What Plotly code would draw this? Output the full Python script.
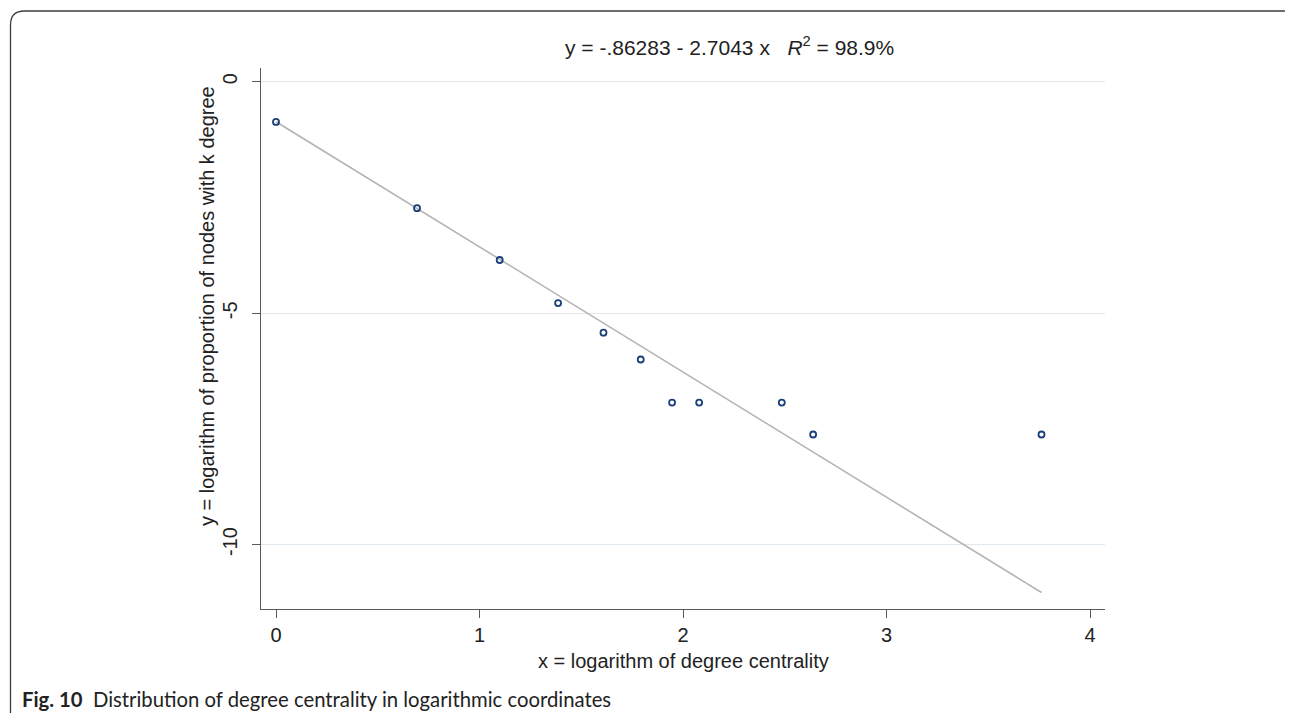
import plotly.graph_objects as go

# ---- data ----
x_log_degree = [0.0, 0.693, 1.099, 1.386, 1.609, 1.792, 1.946, 2.079, 2.485, 2.639, 3.761]
y_log_prop = [-0.866, -2.73, -3.85, -4.78, -5.42, -6.00, -6.93, -6.93, -6.93, -7.62, -7.62]
fit_intercept = -0.86283
fit_slope = -2.7043
x_ticks = [0, 1, 2, 3, 4]
y_ticks = [-10, -5, 0]
title_text = "y = -.86283 - 2.7043 x   <i>R</i><sup>2</sup> = 98.9%"
x_title = "x = logarithm of degree centrality"
y_title = "y = logarithm of proportion of nodes with k degree"
caption = "<b>Fig. 10</b>  Distribution of degree centrality in logarithmic coordinates"

# ---- layout geometry (screen pixels; page body has an 8px margin) ----
OFF = 8
SW, SH = 1293, 713
W, H = SW - OFF, SH - OFF
L, R, T, B = 261, 1105, 68, 609      # plot area in screen pixels
pw, ph = R - L, B - T


def px(x):
    return (x - L) / pw


def py(y):
    return (B - y) / ph


fit_x = [min(x_log_degree), max(x_log_degree)]
fit_y = [fit_intercept + fit_slope * v for v in fit_x]

FONT = "Liberation Sans, Arial, sans-serif"

fig = go.Figure()
fig.add_trace(go.Scatter(
    x=fit_x, y=fit_y, mode="lines",
    line=dict(color="#b4b4b4", width=1.6),
    hoverinfo="skip", showlegend=False,
))
fig.add_trace(go.Scatter(
    x=x_log_degree, y=y_log_prop, mode="markers",
    marker=dict(symbol="circle-open", size=6, color="#1a3f7a",
                line=dict(width=1.8, color="#1a3f7a")),
    showlegend=False,
))

fig.update_xaxes(
    range=[-0.0737, 4.073], tickvals=x_ticks, ticktext=[str(v) for v in x_ticks],
    showgrid=False, zeroline=False, showline=True, linecolor="#5a5a5a", linewidth=1.3,
    ticks="outside", ticklen=8, tickcolor="#5a5a5a", tickwidth=1,
    tickfont=dict(family=FONT, size=20, color="#222222"),
    ticklabelstandoff=0,
)
fig.update_yaxes(
    range=[-11.39, 0.298], tickvals=y_ticks, ticktext=[str(v) for v in y_ticks],
    showgrid=True, gridcolor="#dfe8ee", gridwidth=1.2,
    zeroline=False, showline=True, linecolor="#5a5a5a", linewidth=1.3,
    ticks="outside", ticklen=8, tickcolor="#5a5a5a", tickwidth=1,
    tickangle=-90,
    tickfont=dict(family=FONT, size=20, color="#222222"),
    ticklabelstandoff=7,
)

annotations = [
    dict(text=title_text, x=px(729), y=py(46), xref="paper", yref="paper",
         showarrow=False, xanchor="center", yanchor="middle",
         font=dict(family=FONT, size=21, color="#222222")),
    dict(text=x_title, x=px(683), y=py(661), xref="paper", yref="paper",
         showarrow=False, xanchor="center", yanchor="middle",
         font=dict(family=FONT, size=20, color="#222222")),
    dict(text=y_title, x=px(207), y=py(306), xref="paper", yref="paper",
         showarrow=False, xanchor="center", yanchor="middle", textangle=-90,
         font=dict(family=FONT, size=20, color="#222222")),
    dict(text=caption, x=px(20), y=py(699), xref="paper", yref="paper",
         showarrow=False, xanchor="left", yanchor="middle",
         font=dict(family="Lato, Open Sans, sans-serif", size=20.3, color="#222222")),
]

# rounded frame around the figure panel
x0, y0, x1, y1, r = 10.5, 11, 1292, 740, 14
path = (f"M {px(x0)},{py(y1)} L {px(x0)},{py(y0 + r)} "
        f"Q {px(x0)},{py(y0)} {px(x0 + r)},{py(y0)} "
        f"L {px(x1 - 8)},{py(y0)} Q {px(x1)},{py(y0)} {px(x1)},{py(y0 + 8)} "
        f"L {px(x1)},{py(y1)}")
shapes = [dict(type="path", xref="paper", yref="paper", path=path,
               line=dict(color="#3c3c3c", width=1.3))]

fig.update_layout(
    width=W, height=H,
    margin=dict(l=L - OFF, r=W - (R - OFF), t=T - OFF, b=H - (B - OFF), pad=0),
    paper_bgcolor="white", plot_bgcolor="white",
    annotations=annotations, shapes=shapes,
    showlegend=False,
)

fig.write_html("out.html", config={"displayModeBar": False})
